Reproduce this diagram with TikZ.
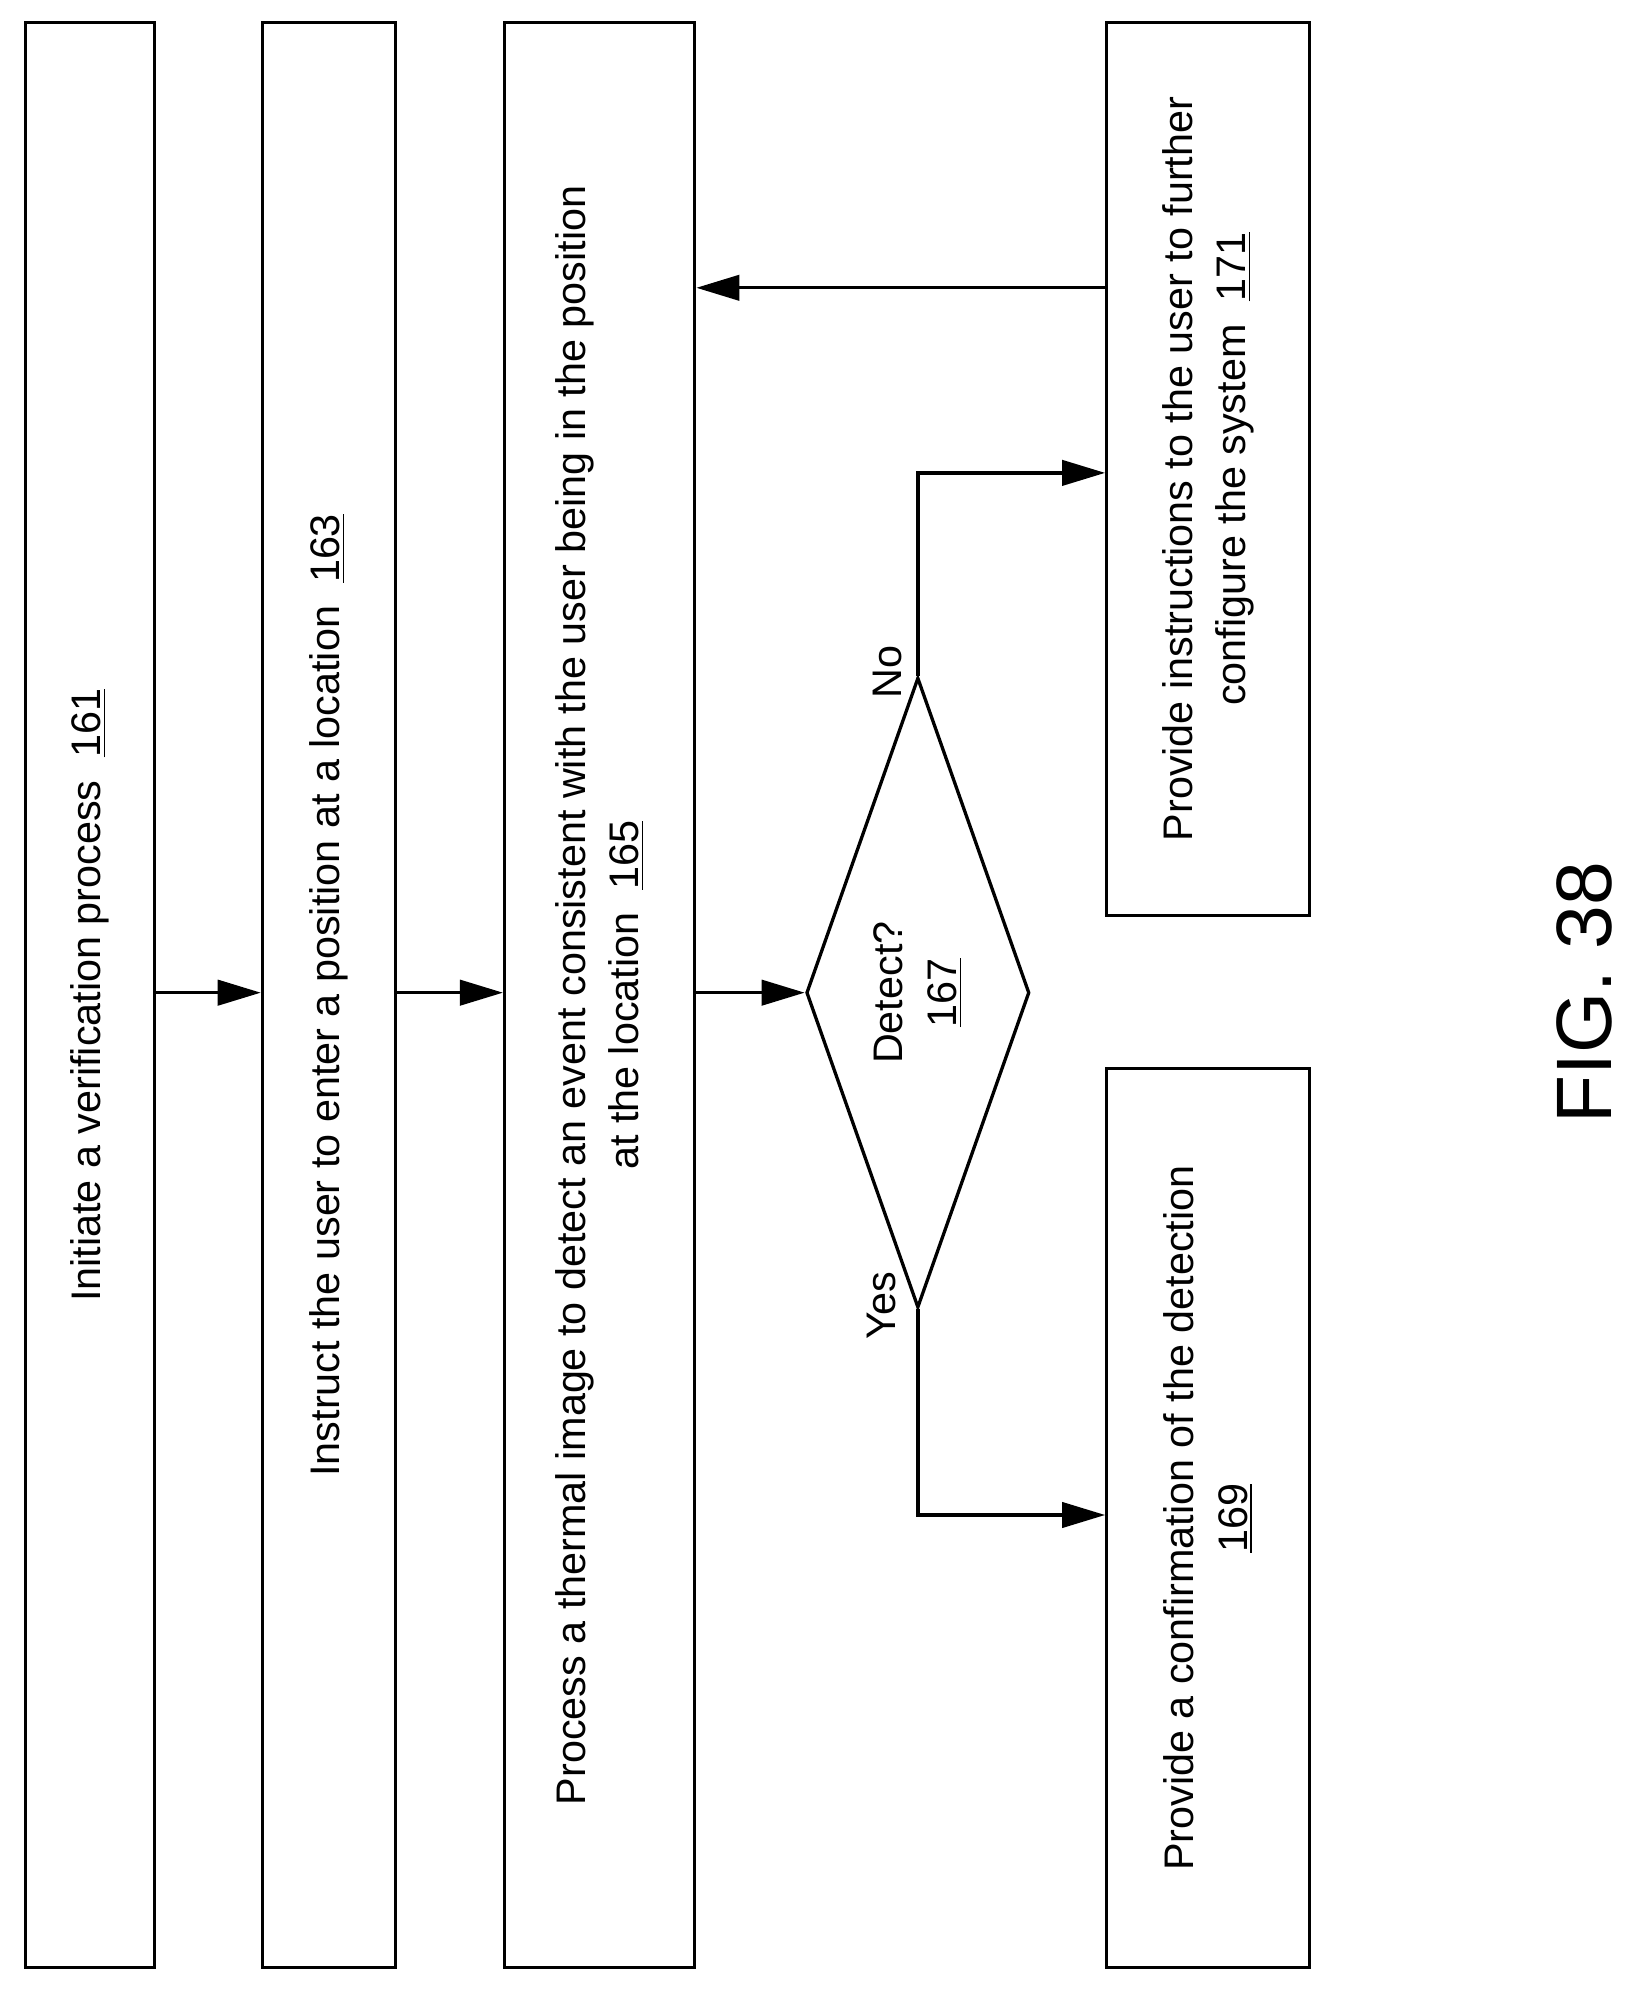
\documentclass[tikz,border=0pt]{standalone}
\usepackage{fontspec}
\setmainfont{Liberation Sans}
\usetikzlibrary{arrows.meta,shapes.geometric}
\tikzset{
  stepbox/.style={draw, line width=1.3pt, rotate=90, align=center, inner sep=0pt,
    font=\fontsize{16.3}{21}\selectfont},
  flow/.style={line width=1.3pt, -{Triangle[length=17pt,width=10pt]}},
  tag/.style={rotate=90, font=\fontsize{16.3}{19}\selectfont}
}
\begin{document}
\begin{tikzpicture}[x=0.5pt,y=0.5pt]
                \useasboundingbox (0,0) rectangle (1300,-1576);
                % boxes
                \node[stepbox, minimum width=767pt, minimum height=51pt] (init) at (71,-785)
                  {Initiate a verification process\ \ \underline{161}};
                \node[stepbox, minimum width=767pt, minimum height=52.5pt] (instr) at (259.5,-785)
                  {Instruct the user to enter a position at a location\ \ \underline{163}};
                \node[stepbox, minimum width=767pt, minimum height=75pt] (proc) at (473,-785)
                  {Process a thermal image to detect an event consistent with the user being in the position\\
                   at the location\ \ \underline{165}};
                \node[draw, diamond, line width=1.3pt, rotate=90, aspect=2.82, minimum width=248.5pt,
                  minimum height=88pt, inner sep=0pt,
                  align=center, font=\fontsize{16.3}{21}\selectfont] (det) at (724,-783)
                  {Detect?\\\underline{167}};
                \node[stepbox, minimum width=352pt, minimum height=80pt] (cfg) at (953,-370)
                  {Provide instructions to the user to further\\configure the system\ \ \underline{171}};
                \node[stepbox, minimum width=354.5pt, minimum height=80pt] (conf) at (953,-1197.5)
                  {Provide a confirmation of the detection\\\underline{169}};
                % connectors
                \draw[flow] (init.south |- 0,-783) -- (instr.north |- 0,-783);
                \draw[flow] (instr.south |- 0,-783) -- (proc.north |- 0,-783);
                \draw[flow] (proc.south |- 0,-783) -- (det.north);
                \draw[flow] (det.east) |- (cfg.north |- 0,-373);
                \draw[flow] (det.west) |- (conf.north |- 0,-1195);
                \draw[flow] (cfg.north |- 0,-227) -- (proc.south |- 0,-227);
                % labels
                \node[tag] (no) at (700,-530) {No};
                \node[tag] (yes) at (695,-1030) {Yes};
                \node[rotate=90, font=\fontsize{31}{34}\selectfont] (fig) at (1250,-783) {FIG. 38};
            \end{tikzpicture}
\end{document}
